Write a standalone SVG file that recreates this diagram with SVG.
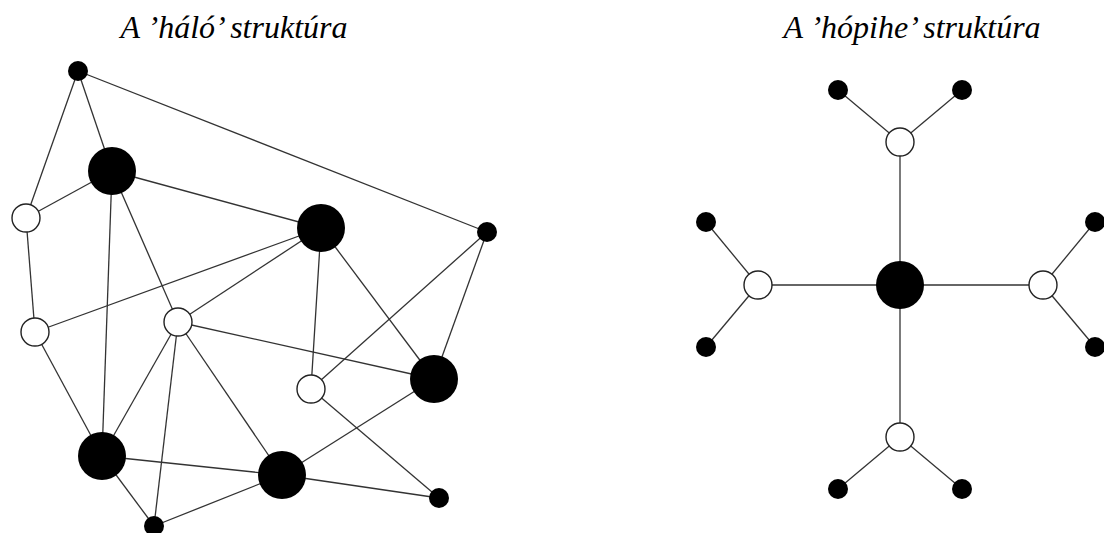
<svg xmlns="http://www.w3.org/2000/svg" width="1104" height="533" viewBox="0 0 1104 533">
<style>
.title{font-family:"Liberation Serif","Times New Roman",serif;font-style:italic;font-size:32px;fill:#000;text-anchor:middle}
.edges line{stroke:#333;stroke-width:1.3}
.big{fill:#000}
.small{fill:#000}
.white{fill:#fff;stroke:#222;stroke-width:1.4}
</style>
<rect width="1104" height="533" fill="#fff"/>
<text class="title" x="234" y="38">A ’háló’ struktúra</text>
<text class="title" x="912" y="38">A ’hópihe’ struktúra</text>
<g id="edges-halo" class="edges">
<line x1="78" y1="71" x2="487" y2="232"/>
<line x1="78" y1="71" x2="26" y2="218"/>
<line x1="78" y1="71" x2="112" y2="171"/>
<line x1="112" y1="171" x2="26" y2="218"/>
<line x1="112" y1="171" x2="321" y2="228"/>
<line x1="112" y1="171" x2="102" y2="456"/>
<line x1="112" y1="171" x2="178" y2="322"/>
<line x1="26" y1="218" x2="35" y2="332"/>
<line x1="35" y1="332" x2="321" y2="228"/>
<line x1="35" y1="332" x2="102" y2="456"/>
<line x1="178" y1="322" x2="321" y2="228"/>
<line x1="178" y1="322" x2="434" y2="379"/>
<line x1="178" y1="322" x2="102" y2="456"/>
<line x1="178" y1="322" x2="154" y2="526"/>
<line x1="178" y1="322" x2="282" y2="475"/>
<line x1="321" y1="228" x2="311" y2="389"/>
<line x1="321" y1="228" x2="434" y2="379"/>
<line x1="487" y1="232" x2="311" y2="389"/>
<line x1="487" y1="232" x2="434" y2="379"/>
<line x1="311" y1="389" x2="439" y2="498"/>
<line x1="434" y1="379" x2="282" y2="475"/>
<line x1="102" y1="456" x2="282" y2="475"/>
<line x1="282" y1="475" x2="439" y2="498"/>
<line x1="102" y1="456" x2="154" y2="526"/>
<line x1="282" y1="475" x2="154" y2="526"/>
</g>
<g id="edges-hopihe" class="edges">
<line x1="838" y1="90" x2="900" y2="142"/>
<line x1="962" y1="90" x2="900" y2="142"/>
<line x1="900" y1="142" x2="900" y2="285"/>
<line x1="900" y1="285" x2="758" y2="285"/>
<line x1="900" y1="285" x2="1043" y2="285"/>
<line x1="900" y1="285" x2="900" y2="437"/>
<line x1="706" y1="222" x2="758" y2="285"/>
<line x1="706" y1="347" x2="758" y2="285"/>
<line x1="1095" y1="222" x2="1043" y2="285"/>
<line x1="1095" y1="347" x2="1043" y2="285"/>
<line x1="838" y1="489" x2="900" y2="437"/>
<line x1="962" y1="489" x2="900" y2="437"/>
</g>
<g id="n-a"><circle class="small" cx="78" cy="71" r="10"/></g>
<g id="n-b"><circle class="big" cx="112" cy="171" r="24"/></g>
<g id="n-c"><circle class="white" cx="26" cy="218" r="14"/></g>
<g id="n-d"><circle class="big" cx="321" cy="228" r="24"/></g>
<g id="n-e"><circle class="small" cx="487" cy="232" r="10"/></g>
<g id="n-f"><circle class="white" cx="35" cy="332" r="14"/></g>
<g id="n-g"><circle class="white" cx="178" cy="322" r="14"/></g>
<g id="n-h"><circle class="white" cx="311" cy="389" r="14"/></g>
<g id="n-i"><circle class="big" cx="434" cy="379" r="24"/></g>
<g id="n-j"><circle class="big" cx="102" cy="456" r="24"/></g>
<g id="n-k"><circle class="big" cx="282" cy="475" r="24"/></g>
<g id="n-l"><circle class="small" cx="439" cy="498" r="10"/></g>
<g id="n-m"><circle class="small" cx="154" cy="526" r="10"/></g>
<g id="s-center"><circle class="big" cx="900" cy="285" r="24"/></g>
<g id="s-top"><circle class="white" cx="900" cy="142" r="14"/></g>
<g id="s-left"><circle class="white" cx="758" cy="285" r="14"/></g>
<g id="s-right"><circle class="white" cx="1043" cy="285" r="14"/></g>
<g id="s-bottom"><circle class="white" cx="900" cy="437" r="14"/></g>
<g id="s-tl"><circle class="small" cx="838" cy="90" r="10"/></g>
<g id="s-tr"><circle class="small" cx="962" cy="90" r="10"/></g>
<g id="s-lt"><circle class="small" cx="706" cy="222" r="10"/></g>
<g id="s-lb"><circle class="small" cx="706" cy="347" r="10"/></g>
<g id="s-rt"><circle class="small" cx="1095" cy="222" r="10"/></g>
<g id="s-rb"><circle class="small" cx="1095" cy="347" r="10"/></g>
<g id="s-bl"><circle class="small" cx="838" cy="489" r="10"/></g>
<g id="s-br"><circle class="small" cx="962" cy="489" r="10"/></g>
</svg>
